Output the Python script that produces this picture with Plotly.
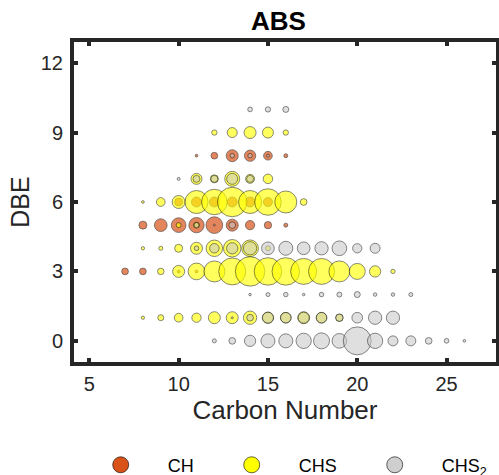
import plotly.graph_objects as go

# ---- data (carbon number, DBE, relative abundance ~ bubble diameter) ----
ch_c   = [7, 8, 10, 11,
          8, 9, 10, 11, 12, 13, 14, 15, 16,
          10, 11, 12, 13, 14, 15,
          11, 12, 13, 14, 15, 16]
ch_dbe = [3, 3, 3, 3,
          5, 5, 5, 5, 5, 5, 5, 5, 5,
          6, 6, 6, 6, 6, 6,
          8, 8, 8, 8, 8, 8]
ch_ab  = [6.7, 6.7, 3, 3,
          8, 12.7, 14.7, 15.3, 16.7, 12, 9.3, 7.3, 4,
          8, 10, 10, 10, 10, 9,
          2.7, 6.7, 12, 11.3, 8.7, 4]

chs_c   = [8, 9, 10, 11, 12, 13, 14, 15, 16, 17, 18, 19,
           9, 10, 11, 12, 13, 14, 15, 16, 17, 18, 19, 20, 21, 22,
           8, 9, 10, 11, 12, 13, 14, 15,
           10, 11,
           8, 9, 10, 11, 12, 13, 14, 15, 16, 17,
           11, 12, 13, 14, 15,
           12, 13, 14, 15, 16]
chs_dbe = [1]*12 + [3]*14 + [4]*8 + [5]*2 + [6]*10 + [7]*5 + [9]*5
chs_ab  = [3.3, 6, 8.7, 9.3, 12, 12, 13.3, 11.3, 10.7, 12, 10.7, 7.3,
           6.5, 12, 16.7, 21, 27, 29.5, 27.5, 27.5, 26, 26, 21, 16, 11.3, 4.3,
           3.3, 4, 8, 12, 16.5, 17.5, 16.7, 5,
           5, 6,
           2.7, 8.7, 13, 23, 25.5, 29.5, 23, 26.5, 22, 6.7,
           11, 8, 15, 9, 9.5,
           5.3, 10, 12, 11, 5.3]

chs2_c   = [12, 13, 14, 15, 16, 17, 18, 19, 20, 21, 22, 23, 24, 25, 26,
            13, 14, 15, 16, 17, 18, 19, 20, 21, 22,
            14, 15, 16, 17, 18, 19, 20, 21, 22, 23,
            11, 12, 13, 14, 15, 16, 17, 18, 19, 20, 21,
            11, 12, 13,
            10, 11, 12, 13, 14,
            13, 14, 15,
            14, 15, 16]
chs2_dbe = [0]*15 + [1]*10 + [2]*10 + [4]*11 + [5]*3 + [7]*5 + [8]*3 + [10]*3
chs2_ab  = [4, 6.7, 11.3, 14, 14, 15.3, 16, 14.7, 28, 15.3, 10, 10, 6.7, 4.7, 2.7,
            2, 6.7, 11, 10.5, 11, 10.5, 7.5, 10.7, 13.3, 13.3,
            2.5, 4, 4.5, 2.5, 4.5, 5, 6, 3.5, 3.5, 4,
            4.7, 9.5, 11.3, 13.3, 12.7, 14, 12.7, 13.3, 14.7, 9.3, 10,
            5, 2, 6.7,
            3, 7, 7, 11, 7,
            4.5, 4.5, 3,
            4.7, 5.3, 6]

x_ticks = [5, 10, 15, 20, 25]
y_ticks = [0, 3, 6, 9, 12]
series_names = ["CH", "CHS", "CHS<sub>2</sub>"]

# ---- styles ----
FONT = "Liberation Sans, Arial, Helvetica, sans-serif"
TXT = "#262626"
face = ["rgba(217,83,25,1)", "rgba(255,255,0,0.9)", "rgba(200,200,200,0.82)"]
solid = ["#D95319", "#FFFF00", "#CFCFCF"]
edge = "rgba(0,0,0,0.65)"
PAD = "\u2004"  # small trailing gap between legend entries

fig = go.Figure()
for (xs, ys, ab, fc) in [(ch_c, ch_dbe, ch_ab, face[0]),
                         (chs_c, chs_dbe, chs_ab, face[1]),
                         (chs2_c, chs2_dbe, chs2_ab, face[2])]:
    fig.add_trace(go.Scatter(
        x=xs, y=ys, mode="markers", showlegend=False, hoverinfo="x+y",
        marker=dict(size=ab, sizemode="diameter", sizeref=1, color=fc,
                    line=dict(color=edge, width=1))))

# legend entries
for name, c in zip(series_names, solid):
    fig.add_trace(go.Scatter(
        x=[None], y=[None], mode="markers", name=name + PAD,
        marker=dict(size=16, color=c, line=dict(color="rgba(0,0,0,0.6)", width=1))))

fig.update_layout(
    width=499, height=475,
    margin=dict(l=72, r=1, t=40, b=111, autoexpand=False),
    plot_bgcolor="white", paper_bgcolor="white",
    font=dict(family=FONT, color=TXT, size=20),
    title=dict(text="<b>ABS</b>", x=0.558, xanchor="center", y=0.955, yanchor="middle",
               font=dict(size=26, color="black", family=FONT)),
    showlegend=True,
    legend=dict(orientation="h", x=0.004, xanchor="left", y=-0.312, yanchor="middle",
                font=dict(size=18, color="black", family=FONT),
                itemwidth=84, tracegroupgap=0,
                bgcolor="rgba(0,0,0,0)"),
    shapes=[dict(type="rect", xref="paper", yref="paper", x0=0, x1=1, y0=0, y1=1,
                 line=dict(color=TXT, width=4), layer="above")],
)
fig.update_xaxes(range=[4.03, 27.88], tickvals=x_ticks, ticks="inside", ticklen=6,
                 tickwidth=4, tickcolor=TXT, mirror="ticks", showline=False,
                 showgrid=False, zeroline=False, tickfont=dict(size=20),
                 ticklabelstandoff=6, automargin=False,
                 title=dict(text="Carbon Number", font=dict(size=26), standoff=6))
fig.update_yaxes(range=[-1, 13], tickvals=y_ticks, ticks="inside", ticklen=6,
                 tickwidth=4, tickcolor=TXT, mirror="ticks", showline=False,
                 showgrid=False, zeroline=False, tickfont=dict(size=20),
                 ticklabelstandoff=8, automargin=False,
                 title=dict(text="DBE", font=dict(size=25), standoff=4))

fig.write_html("out.html")
